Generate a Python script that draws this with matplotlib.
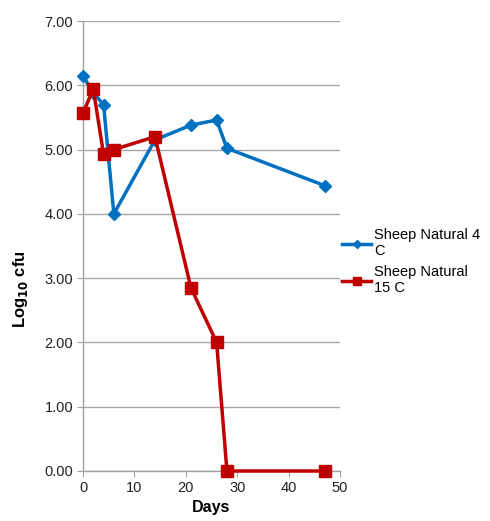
import matplotlib
matplotlib.use("Agg")
import matplotlib.pyplot as plt

days_4c = [0, 2, 4, 6, 14, 21, 26, 28, 47]
log_4c = [6.15, 5.88, 5.70, 4.00, 5.15, 5.38, 5.46, 5.02, 4.44]

days_15c = [0, 2, 4, 6, 14, 21, 26, 28, 47]
log_15c = [5.57, 5.94, 4.93, 5.00, 5.20, 2.85, 2.00, 0.00, 0.00]

labels = ["Sheep Natural 4\nC", "Sheep Natural\n15 C"]
yticks = [0, 1, 2, 3, 4, 5, 6, 7]
xticks = [0, 10, 20, 30, 40, 50]

plt.rcParams['font.family'] = ['Liberation Sans', 'DejaVu Sans']

fig = plt.figure(figsize=(4.9, 5.21), dpi=100)
ax = fig.add_axes([83 / 490, 50 / 521, 257 / 490, 450 / 521])

ax.plot(days_4c, log_4c, color="#0070C0", lw=2.5, marker="D", ms=6,
        label=labels[0], zorder=3, clip_on=False)
ax.plot(days_15c, log_15c, color="#C00000", lw=2.5, marker="s", ms=8,
        label=labels[1], zorder=4, clip_on=False)

ax.set_xlim(0, 50)
ax.set_ylim(0, 7)
ax.set_xticks(xticks)
ax.set_yticks(yticks)
ax.set_yticklabels([f"{v:.2f}" for v in yticks])
ax.tick_params(axis="both", labelsize=10.5, colors="#222222", length=4,
               color="#A0A0A0")
ax.tick_params(axis="y", pad=3)

ax.grid(axis="y", color="#A6A6A6", lw=1)
ax.set_axisbelow(True)
for side in ("top", "right"):
    ax.spines[side].set_visible(False)
for side in ("left", "bottom"):
    ax.spines[side].set_color("#A0A0A0")
    ax.spines[side].set_linewidth(1)

ax.set_xlabel("Days", fontsize=11.5, fontweight="bold", labelpad=3)
ax.set_ylabel("Log$_{\\mathbf{10}}$ cfu", fontsize=12, fontweight="bold")
ax.yaxis.set_label_coords(-53 / 257, 0.405)

leg = ax.legend(loc="center left", bbox_to_anchor=(0.985, 0.465), frameon=False,
                fontsize=10.5, handlelength=2.0, handletextpad=0.2,
                labelspacing=0.45, borderaxespad=0, markerscale=0.75)

fig.savefig("out.png", dpi=100)
